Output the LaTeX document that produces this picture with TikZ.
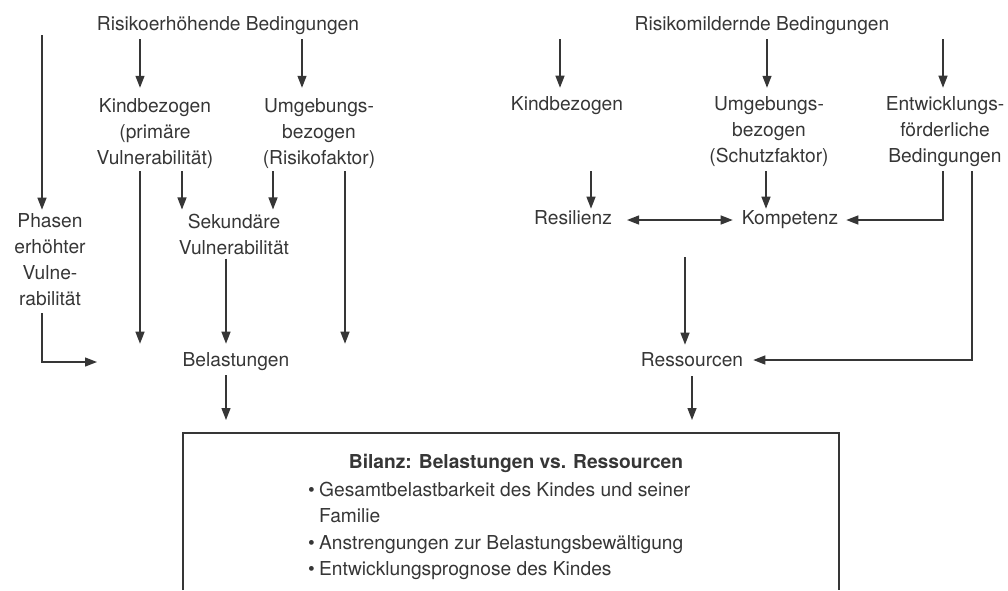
\documentclass[tikz,border=0pt]{standalone}
\usepackage{fontspec}
\setmainfont{TeX Gyre Heros}
\usetikzlibrary{arrows.meta}
\definecolor{ink}{HTML}{363636}

\begin{document}
\begin{tikzpicture}[x=1pt,y=-1pt,
  lbl/.style={font=\fontsize{19.2}{26}\selectfont, text=ink, align=center, inner sep=0pt},
  arr/.style={draw=ink, line width=1.3pt, -{Triangle[length=12pt,width=9pt]}, shorten <=4pt, shorten >=4pt},
  ln/.style={draw=ink, line width=1.3pt}]
  \useasboundingbox (0,0) rectangle (1008,590);

  \node[lbl] (rh) at (228,26) {Risikoerhöhende Bedingungen};
  \node[lbl] (kl) at (155,134) {Kindbezogen\\(primäre\\Vulnerabilität)};
  \node[lbl] (ul) at (319,134) {Umgebungs-\\bezogen\\(Risikofaktor)};
  \node[lbl] (ph) at (50,260) {Phasen\\erhöhter\\Vulne-\\rabilität};
  \node[lbl] (sk) at (234,234) {Sekundäre\\Vulnerabilität};
  \node[lbl] (bl) at (236,362) {Belastungen};

  \node[lbl] (rm) at (762,26) {Risikomildernde Bedingungen};
  \node[lbl] (kr) at (567,106) {Kindbezogen};
  \node[lbl] (ur) at (769,132) {Umgebungs-\\bezogen\\(Schutzfaktor)};
  \node[lbl] (ef) at (945,132) {Entwicklungs-\\förderliche\\Bedingungen};
  \node[lbl] (rs) at (573,218) {Resilienz};
  \node[lbl] (kp) at (790,220) {Kompetenz};
  \node[lbl] (rc) at (692,360) {Ressourcen};

  \coordinate (bxl) at (183,590);
  \coordinate (bxr) at (839,590);
  \coordinate (bxt) at (0,433);
  \draw[ln] (bxl) |- (bxr |- bxt) -- (bxr);

  \node[lbl, font=\bfseries\fontsize{19.2}{26}\selectfont] (bt) at (516,463) {Bilanz: Belastungen vs. Ressourcen};
  \node[lbl, anchor=base west] (b1) at (308,496) {\makebox[11pt][l]{\textbullet}Gesamtbelastbarkeit des Kindes und seiner};
  \node[lbl, anchor=base west] (b1b) at (319,522) {Familie};
  \node[lbl, anchor=base west] (b2) at (308,549) {\makebox[11pt][l]{\textbullet}Anstrengungen zur Belastungsbewältigung};
  \node[lbl, anchor=base west] (b3) at (308,575) {\makebox[11pt][l]{\textbullet}Entwicklungsprognose des Kindes};

  \coordinate (ptop) at (42,35);
  \draw[arr, shorten <=0pt] (ptop) -- (ptop |- ph.north);
  \draw[arr, shorten >=11pt] (140,0 |- rh.south) -- (140,0 |- kl.north);
  \draw[arr, shorten >=11pt] (302,0 |- rh.south) -- (302,0 |- ul.north);
  \draw[arr, shorten <=2pt, shorten >=9pt] (140,0 |- kl.south) -- (140,0 |- bl.north);
  \draw[arr, shorten <=2pt] (182,0 |- kl.south) -- (182,0 |- sk.north);
  \draw[arr, shorten <=2pt] (273,0 |- ul.south) -- (273,0 |- sk.north);
  \draw[arr, shorten <=2pt, shorten >=9pt] (345,0 |- ul.south) -- (345,0 |- bl.north);
  \draw[arr, shorten >=9pt] (226,0 |- sk.south) -- (226,0 |- bl.north);
  \draw[arr, shorten <=7pt, shorten >=0pt] (42,0 |- ph.south) |- (97,0 |- bl.west);
  \draw[arr, shorten >=13pt] (226,0 |- bl.south) -- (226,0 |- bxt);

  \draw[arr, shorten >=9pt] (560,0 |- rm.south) -- (560,0 |- kr.north);
  \draw[arr, shorten >=9pt] (767,0 |- rm.south) -- (767,0 |- ur.north);
  \draw[arr, shorten >=9pt] (943,0 |- rm.south) -- (943,0 |- ef.north);
  \draw[arr, shorten >=2pt] (591,0 |- ur.south) -- (591,0 |- rs.north);
  \draw[arr, shorten >=2pt] (766,0 |- ur.south) -- (766,0 |- kp.north);
  \draw[arr, {Triangle[length=12pt,width=9pt]}-{Triangle[length=12pt,width=9pt]}, shorten <=15pt, shorten >=9pt] (rs.east |- kp.west) -- (kp.west);
  \draw[arr, shorten >=8pt] (943,0 |- ef.south) |- (kp.east);
  \draw[arr, shorten >=10pt] (972,0 |- ef.south) |- (rc.east);
  \coordinate (rtop) at (685,257);
  \draw[arr, shorten <=0pt, shorten >=8pt] (rtop) -- (rtop |- rc.north);
  \draw[arr, shorten <=9pt, shorten >=13pt] (692,0 |- rc.south) -- (692,0 |- bxt);
\end{tikzpicture}
\end{document}
